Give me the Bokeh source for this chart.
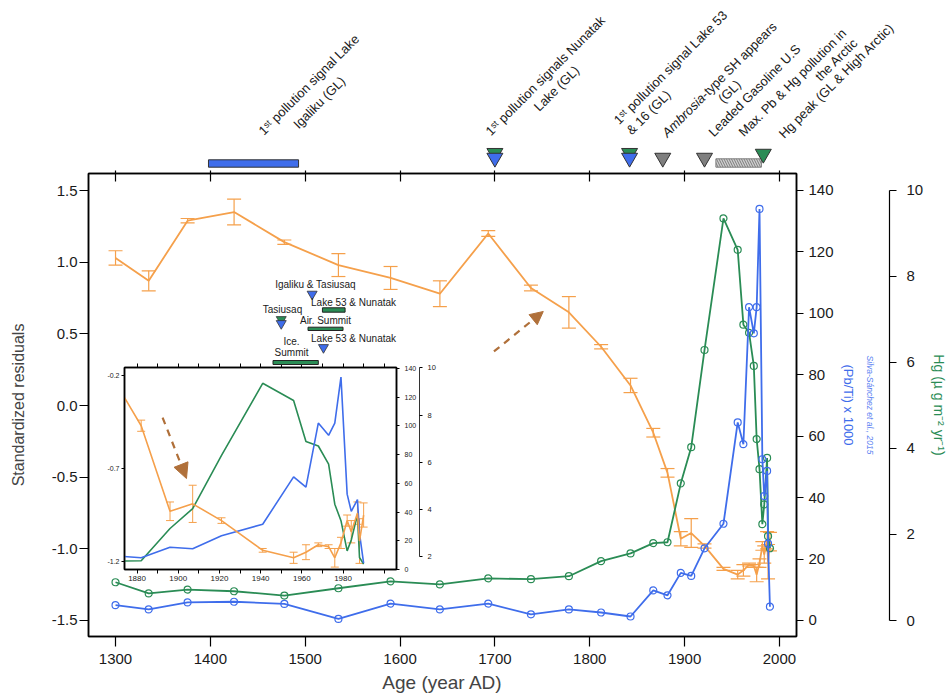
import numpy as np
from bokeh.plotting import figure
from bokeh.layouts import column
from bokeh.models import (Range1d, LinearAxis, FixedTicker, ColumnDataSource, Whisker, TeeHead,
                          Arrow, NormalHead, PrintfTickFormatter)
from bokeh.core.properties import value
from bokeh.embed import file_html
from bokeh.resources import INLINE

FONT = "Liberation Sans"
ORANGE = "#F5A04B"
BLUE = "#3F6DEB"
GREEN = "#2A8C55"
BROWN = "#B0703A"
GRAY = "#7F7F7F"

# ---------------- data ----------------
years = [1300, 1335, 1376, 1425, 1478, 1535, 1590, 1642, 1693, 1738, 1778, 1812, 1843, 1867, 1882,
         1896, 1907, 1921, 1941, 1956, 1962, 1968, 1973, 1976, 1979, 1982, 1984, 1987, 1988, 1990]
resid = [1.03, 0.87, 1.29, 1.35, 1.14, 0.98, 0.89, 0.78, 1.20, 0.82, 0.65, 0.41, 0.14, -0.19, -0.47,
         -0.93, -0.89, -0.98, -1.14, -1.18, -1.15, -1.11, -1.12, -1.18, -1.10, -0.98, -1.04, -0.94, -1.09, -0.95]
resid_err = [0.05, 0.07, 0.015, 0.09, 0.015, 0.08, 0.08, 0.09, 0.02, 0.02, 0.11, 0.015, 0.05, 0.03, 0.03,
             0.05, 0.10, 0.015, 0.01, 0.03, 0.04, 0.01, 0.01, 0.05, 0.03, 0.03, 0.06, 0.06, 0.12, 0.065]
pbti = [5.0, 3.6, 5.9, 6.1, 5.4, 0.5, 5.5, 3.6, 5.5, 2.0, 3.6, 2.6, 1.3, 9.8, 8.2,
        15.5, 14.5, 23.5, 31.5, 64.5, 57.4, 102.0, 93.5, 102.0, 134.0, 52.5, 40.5, 48.7, 25.0, 4.5]
hg = [0.89, 0.63, 0.72, 0.68, 0.58, 0.75, 0.91, 0.84, 0.98, 0.96, 1.03, 1.38, 1.56, 1.80, 1.82,
      3.19, 4.03, 6.29, 9.35, 8.62, 6.88, 6.69, 5.92, 4.22, 3.52, 2.24, 2.70, 3.78, 1.96, 1.68]

main_xticks = [1300, 1400, 1500, 1600, 1700, 1800, 1900, 2000]
main_yticks = [-1.5, -1.0, -0.5, 0.0, 0.5, 1.0, 1.5]
pb_ticks = [0, 20, 40, 60, 80, 100, 120, 140]
hg_ticks = [0, 2, 4, 6, 8, 10]
inset_xticks = [1880, 1900, 1920, 1940, 1960, 1980]
inset_xminor = [1870, 1890, 1910, 1930, 1950, 1970, 1990, 2000]
inset_yticks = [-1.2, -0.7, -0.2]
inset_hg_ticks = [2, 4, 6, 8, 10]

# events (top strip of the main chart)
ev_blue_tri = [1700, 1842]
ev_green_tri = [1700, 1842, 1983]
ev_gray_tri = [1877, 1921]
ev_blue_bar = [1398, 1493]
ev_hatch_bar = [1933, 1981]
top_lines = ["1ˢᵗ pollution signal Lake", "Igaliku  (GL)",
             "1ˢᵗ pollution signals  Nunatak", "Lake (GL)",
             "1ˢᵗ pollution signal Lake 53", "& 16 (GL)",
             "(GL)", "Leaded Gasoline U.S",
             "Max. Pb & Hg pollution in", "the Arctic",
             "Hg peak (GL & High Arctic)"]
ambrosia_parts = ["Ambrosia", "-type SH appears"]

# events (above the inset)
in_blue_tri = [1965, 1950, 1970.5]
in_green_tri = [1950]
in_bar_start = [1970, 1963, 1946]
in_bar_end = [1981, 1980, 1968]
in_lines = ["Igaliku & Tasiusaq", "Lake 53 & Nunatak", "Tasiusaq", "Air. Summit",
            "Lake 53 & Nunatak", "Ice.", "Summit"]

# ---------------- main figure ----------------
W, H = 950, 696
FL, FR, FT, FB = 88, 154, 173, 60
HG_AXIS_X = 892
X_RANGE = (1271.5, 2018.0)
HG_RANGE = (-0.372, 10.395)

p = figure(width=W, height=H, x_range=Range1d(*X_RANGE), y_range=Range1d(-1.612, 1.619),
           output_backend="svg", toolbar_location=None,
           min_border_left=FL, min_border_right=FR, min_border_top=FT, min_border_bottom=FB,
           background_fill_color="white", border_fill_color="white",
           outline_line_color="black", outline_line_width=1.5)
p.grid.grid_line_color = None
p.extra_y_ranges = {"pb": Range1d(-5.21, 145.53), "hg": Range1d(*HG_RANGE)}


def style_axis(ax, size="15px"):
    ax.major_label_text_font = FONT
    ax.major_label_text_font_size = size
    ax.major_label_text_color = "#1a1a1a"
    ax.axis_label_text_font = FONT
    ax.axis_label_text_font_style = "normal"
    ax.axis_line_color = "black"
    ax.axis_line_width = 1.5
    ax.major_tick_line_color = "black"
    ax.major_tick_line_width = 1.2
    ax.minor_tick_line_color = None
    ax.major_tick_in = 0


xa = p.xaxis[0]
style_axis(xa)
xa.ticker = FixedTicker(ticks=main_xticks)
xa.major_tick_out = 10
xa.major_label_standoff = 7
xa.axis_label = "Age (year AD)"
xa.axis_label_text_font_size = "19px"
xa.axis_label_standoff = 5

ya = p.yaxis[0]
style_axis(ya)
ya.ticker = FixedTicker(ticks=main_yticks)
ya.formatter = PrintfTickFormatter(format="%.1f")
ya.major_tick_out = 9
ya.major_label_standoff = 2
ya.axis_label = "Standardized residuals"
ya.axis_label_text_font_size = "16px"
ya.axis_label_standoff = 22

top_ax = LinearAxis(ticker=FixedTicker(ticks=main_xticks))
style_axis(top_ax)
top_ax.major_label_text_alpha = 0
top_ax.major_tick_in = 8
top_ax.major_tick_out = 3
p.add_layout(top_ax, "above")

pb_ax = LinearAxis(y_range_name="pb", ticker=FixedTicker(ticks=pb_ticks))
style_axis(pb_ax)
pb_ax.major_tick_out = 7
pb_ax.major_label_standoff = 5
pb_ax.axis_label = "(Pb/Ti) x 1000"
pb_ax.axis_label_text_color = BLUE
pb_ax.axis_label_text_font_size = "13px"
pb_ax.axis_label_standoff = 4
p.add_layout(pb_ax, "right")

silva_ax = LinearAxis(y_range_name="pb", ticker=FixedTicker(ticks=[]))
silva_ax.axis_line_color = None
silva_ax.major_tick_out = 0
silva_ax.major_tick_in = 0
silva_ax.minor_tick_line_color = None
silva_ax.major_label_standoff = 0
silva_ax.axis_label = "Silva-Sánchez et al., 2015"
silva_ax.axis_label_text_font = FONT
silva_ax.axis_label_text_font_size = "8.5px"
silva_ax.axis_label_text_font_style = "italic"
silva_ax.axis_label_text_color = "#5B82F2"
silva_ax.axis_label_standoff = 6
p.add_layout(silva_ax, "right")

# series
src = ColumnDataSource(dict(x=years, r=resid, lo=[v - e for v, e in zip(resid, resid_err)],
                            hi=[v + e for v, e in zip(resid, resid_err)], pb=pbti, hg=hg))
p.line("x", "r", source=src, line_color=ORANGE, line_width=1.8)
p.add_layout(Whisker(source=src, base="x", lower="lo", upper="hi", dimension="height",
                     line_color=ORANGE, line_width=1.2,
                     upper_head=TeeHead(size=14, line_color=ORANGE, line_width=1.2),
                     lower_head=TeeHead(size=14, line_color=ORANGE, line_width=1.2)))
p.line("x", "hg", source=src, y_range_name="hg", line_color=GREEN, line_width=1.8)
p.scatter("x", "hg", source=src, y_range_name="hg", marker="circle", size=7,
          fill_color="white", fill_alpha=0, line_color=GREEN, line_width=1.2)
p.line("x", "pb", source=src, y_range_name="pb", line_color=BLUE, line_width=1.8)
p.scatter("x", "pb", source=src, y_range_name="pb", marker="circle", size=7,
          fill_color="white", fill_alpha=0, line_color=BLUE, line_width=1.2)

p.add_layout(Arrow(x_start=1699, y_start=0.377, x_end=1751, y_end=0.656,
                   line_color=BROWN, line_width=2.2, line_dash="7 6",
                   end=NormalHead(size=13, fill_color=BROWN, line_color=BROWN, line_dash="solid")))

ABS0 = {"position": "absolute", "left": "0px", "top": "0px"}

# ---------------- Hg axis (overlay whose frame ends at the Hg axis line) ----------------
hgfig = figure(width=W, height=H, x_range=p.x_range, y_range=Range1d(*HG_RANGE),
               output_backend="svg", toolbar_location=None,
               x_axis_location=None, y_axis_location="right",
               min_border_left=FL, min_border_right=W - HG_AXIS_X, min_border_top=FT, min_border_bottom=FB,
               background_fill_color=None, border_fill_color=None, outline_line_color=None,
               frame_align=False, styles=ABS0)
hgfig.grid.grid_line_color = None
hg_ax = hgfig.yaxis[0]
style_axis(hg_ax)
hg_ax.ticker = FixedTicker(ticks=hg_ticks)
hg_ax.bounds = (0, 10)
hg_ax.axis_line_width = 1.2
hg_ax.major_tick_out = 7
hg_ax.major_label_standoff = 10
hg_ax.axis_label = "Hg (µ g m⁻² yr⁻¹)"
hg_ax.axis_label_text_color = GREEN
hg_ax.axis_label_text_font_size = "14px"
hg_ax.axis_label_standoff = 5

# ---------------- top strip (events above the main frame) ----------------
strip = figure(width=W, height=FT, x_range=p.x_range, y_range=Range1d(0, FT),
               output_backend="svg", toolbar_location=None,
               x_axis_location=None, y_axis_location=None,
               min_border_left=FL, min_border_right=FR, min_border_top=0, min_border_bottom=0,
               background_fill_color=None, border_fill_color=None, outline_line_color=None,
               frame_align=False, styles=ABS0)
strip.grid.grid_line_color = None
# y in the strip = pixels above the main frame top
strip.quad(left=[ev_blue_bar[0]], right=[ev_blue_bar[1]], bottom=[6.3], top=[13.7],
           fill_color=BLUE, line_color="#333333", line_width=1)
strip.quad(left=[ev_hatch_bar[0]], right=[ev_hatch_bar[1]], bottom=[6.3], top=[14.7],
           fill_color="#D0D0D0", line_color="#808080", line_width=1, hatch_pattern="\\",
           hatch_color="#7a7a7a", hatch_scale=5, hatch_weight=1)
strip.scatter(x=ev_green_tri, y=[20.4, 20.4, 19.6], marker="inverted_triangle",
              size=16, fill_color=GREEN, line_color="#333333", line_width=1)
strip.scatter(x=ev_blue_tri, y=[15.6] * len(ev_blue_tri), marker="inverted_triangle",
              size=16, fill_color=BLUE, line_color="#333333", line_width=1)
strip.scatter(x=ev_gray_tri, y=[15.6] * len(ev_gray_tri), marker="inverted_triangle",
              size=16, fill_color=GRAY, line_color="#333333", line_width=1)

top_x = [1503.8, 1516.1, 1754.4, 1765.0, 1885.1, 1862.0, 1947.3, 1973.7, 2013.7, 2060.1, 2060.1]
top_y = [88.8, 72.2, 99, 85, 106, 61, 82, 83, 91, 114, 93]
strip.text(x=top_x, y=top_y, text=top_lines, angle=np.pi / 4,
           text_align="center", text_baseline="middle", text_font=value(FONT),
           text_font_size="13px", text_color="#1a1a1a", level="overlay")
strip.text(x=[1878.5], y=[38.8], text=[ambrosia_parts[0]], angle=np.pi / 4,
           text_align="left", text_baseline="middle", text_font=value(FONT), text_font_style="italic",
           text_font_size="13px", text_color="#1a1a1a", level="overlay")
strip.text(x=[1919.3], y=[77.5], text=[ambrosia_parts[1]], angle=np.pi / 4,
           text_align="left", text_baseline="middle", text_font=value(FONT),
           text_font_size="13px", text_color="#1a1a1a", level="overlay")

# ---------------- inset figure ----------------
IW, IH = 346, 317
IL, IR, IT, IB = 24, 50, 95, 20
IX, IY = 100, 272
ABS_IN = {"position": "absolute", "left": f"{IX}px", "top": f"{IY}px"}

ins = figure(width=IW, height=IH, x_range=Range1d(1873.9, 2005.96), y_range=Range1d(-1.243, -0.157),
             output_backend="svg", toolbar_location=None,
             min_border_left=IL, min_border_right=IR, min_border_top=IT, min_border_bottom=IB,
             background_fill_color="white", border_fill_color=None,
             outline_line_color="black", outline_line_width=1.5, frame_align=False, styles=ABS_IN)
ins.grid.grid_line_color = None
ins.extra_y_ranges = {"pb": Range1d(0, 140.7), "hg": Range1d(1.45, 10.02)}


def style_small(ax, size="7px", tick=3):
    style_axis(ax, size)
    ax.major_tick_out = tick
    ax.major_label_standoff = 2
    ax.major_tick_line_width = 1


ixa = ins.xaxis[0]
style_small(ixa, "8px", 4)
ixa.ticker = FixedTicker(ticks=inset_xticks, minor_ticks=inset_xminor)
ixa.minor_tick_line_color = "black"
ixa.minor_tick_out = 4
ixa.minor_tick_in = 0

iya = ins.yaxis[0]
style_small(iya, "7px", 3)
iya.ticker = FixedTicker(ticks=inset_yticks)
iya.formatter = PrintfTickFormatter(format="%.1f")

itop = LinearAxis(ticker=FixedTicker(ticks=inset_xticks, minor_ticks=inset_xminor))
style_small(itop, "7px", 4)
itop.major_label_text_alpha = 0
itop.minor_tick_line_color = "black"
itop.minor_tick_out = 4
itop.minor_tick_in = 0
ins.add_layout(itop, "above")

ipb = LinearAxis(y_range_name="pb", ticker=FixedTicker(ticks=pb_ticks))
style_small(ipb, "7px", 3)
ipb.major_label_standoff = 5
ins.add_layout(ipb, "right")

ihg = LinearAxis(y_range_name="hg", ticker=FixedTicker(ticks=inset_hg_ticks), bounds=(2, 10))
style_small(ihg, "7.5px", 3)
ihg.axis_line_color = "#333333"
ihg.axis_line_width = 1
ihg.major_label_standoff = 5
ins.add_layout(ihg, "right")

ins.line("x", "hg", source=src, y_range_name="hg", line_color=GREEN, line_width=1.6)
ins.line("x", "pb", source=src, y_range_name="pb", line_color=BLUE, line_width=1.6)
ins.line("x", "r", source=src, line_color=ORANGE, line_width=1.6)
ins.add_layout(Whisker(source=src, base="x", lower="lo", upper="hi", dimension="height",
                       line_color=ORANGE, line_width=1,
                       upper_head=TeeHead(size=8, line_color=ORANGE, line_width=1),
                       lower_head=TeeHead(size=8, line_color=ORANGE, line_width=1)))
ins.add_layout(Arrow(x_start=1892.4, y_start=-0.426, x_end=1904.0, y_end=-0.754,
                     line_color=BROWN, line_width=2.2, line_dash="7 6",
                     end=NormalHead(size=15, fill_color=BROWN, line_color=BROWN, line_dash="solid")))

# ---------------- annotations above the inset ----------------
ins_top = figure(width=IW, height=IT, x_range=ins.x_range, y_range=Range1d(0, IT),
                 output_backend="svg", toolbar_location=None,
                 x_axis_location=None, y_axis_location=None,
                 min_border_left=IL, min_border_right=IR, min_border_top=0, min_border_bottom=0,
                 background_fill_color=None, border_fill_color=None, outline_line_color=None,
                 frame_align=False, styles=ABS_IN)
ins_top.grid.grid_line_color = None
# y = pixels above the inset frame top
ins_top.quad(left=in_bar_start, right=in_bar_end, bottom=[55.3, 37.0, 3.0], top=[59.7, 40.3, 7.0],
             fill_color=GREEN, line_color="#222222", line_width=1)
ins_top.scatter(x=in_green_tri, y=[48.0], marker="inverted_triangle", size=10,
                fill_color=GREEN, line_color="#333333", line_width=0.8)
ins_top.scatter(x=in_blue_tri, y=[73.4, 44.0, 20.0], marker="inverted_triangle", size=10,
                fill_color=BLUE, line_color="#333333", line_width=0.8)
ins_top.text(x=[1966.6, 1985.1, 1950.6, 1971.5, 1985.1, 1955.0, 1955.0],
             y=[83, 65, 58, 47, 29, 26, 15], text=in_lines,
             text_align="center", text_baseline="middle", text_font=value(FONT),
             text_font_size="10px", text_color="#1a1a1a", level="overlay")

layout = column(p, hgfig, strip, ins, ins_top)

open("out.html", "w").write(file_html(layout, INLINE))
